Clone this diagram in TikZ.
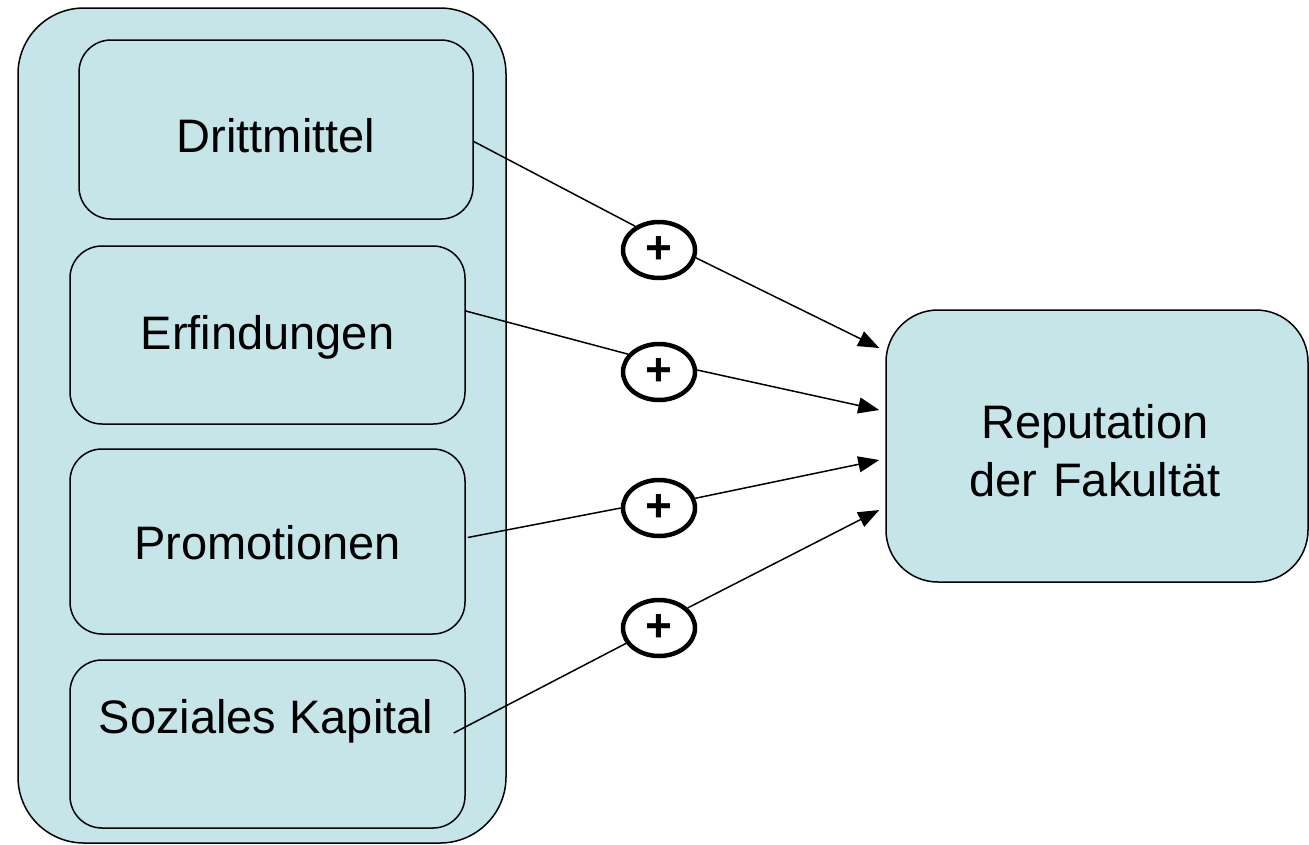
\documentclass[tikz,border=0pt]{standalone}
\usepackage{fontspec}
\setmainfont{Liberation Sans}
\usetikzlibrary{shapes.geometric,arrows.meta,calc}
\definecolor{boxfill}{RGB}{198,229,232}
\tikzset{
  box/.style={draw=black,line width=1.5pt,fill=boxfill,inner sep=0pt},
  txt/.style={font=\fontsize{47}{58}\selectfont,inner sep=0pt,align=center},
  plus/.style={ellipse,draw=black,line width=4.5pt,fill=white,minimum width=72pt,minimum height=56pt,inner sep=0pt,font=\fontsize{46}{48}\selectfont\bfseries},
  conn/.style={line width=1.5pt,draw=black},
  arr/.style={conn,-{Triangle[length=21pt,width=16pt]}}
}
\begin{document}
\begin{tikzpicture}[x=1pt,y=-1pt]
\useasboundingbox (0,0) rectangle (1309,844);
% outer container
\node[box,rounded corners=66pt,minimum width=488pt,minimum height=835pt] (outer) at (262,425.5) {};
% inner boxes
\node[box,rounded corners=32pt,minimum width=394pt,minimum height=179pt] (d) at (276,129.5) {};
\node[txt] at (276,136) {Drittmittel};
\node[box,rounded corners=32pt,minimum width=395pt,minimum height=178pt] (e) at (267.5,335) {};
\node[txt] at (267.5,337) {Erfindungen};
\node[box,rounded corners=32pt,minimum width=395pt,minimum height=185pt] (p) at (267.5,541.5) {};
\node[txt] at (267.5,543) {Promotionen};
\node[box,rounded corners=32pt,minimum width=395pt,minimum height=168pt] (s) at (267.5,744) {};
\node[txt] at (266,721) {Soziales Kapital};
% target
\node[box,rounded corners=52pt,minimum width=422pt,minimum height=272pt] (r) at (1097,446) {};
\node[txt,text width=300pt] at (1095,451) {Reputation\\der Fakultät};
% plus circles
\node[plus] (c1) at (659,250) {+};
\node[plus] (c2) at (659,372) {+};
\node[plus] (c3) at (659,508) {+};
\node[plus] (c4) at (659,628) {+};
% connectors
\draw[conn] ($(d.east)+(0,12)$) -- (c1.135);
\draw[arr] (c1.-12) -- ($(r.west)+(-6,-98)$);
\draw[conn] ($(e.east)+(0,-24)$) -- (c2.150);
\draw[arr] (c2.3) -- ($(r.west)+(-6,-36)$);
\draw[conn] ($(p.east)+(2,-4)$) -- (c3.180);
\draw[arr] (c3.15) -- ($(r.west)+(-6,14)$);
\draw[conn] ($(s.east)+(-12,-11)$) -- (c4.205);
\draw[arr] (c4.35) -- ($(r.west)+(-6,64)$);
\end{tikzpicture}
\end{document}
